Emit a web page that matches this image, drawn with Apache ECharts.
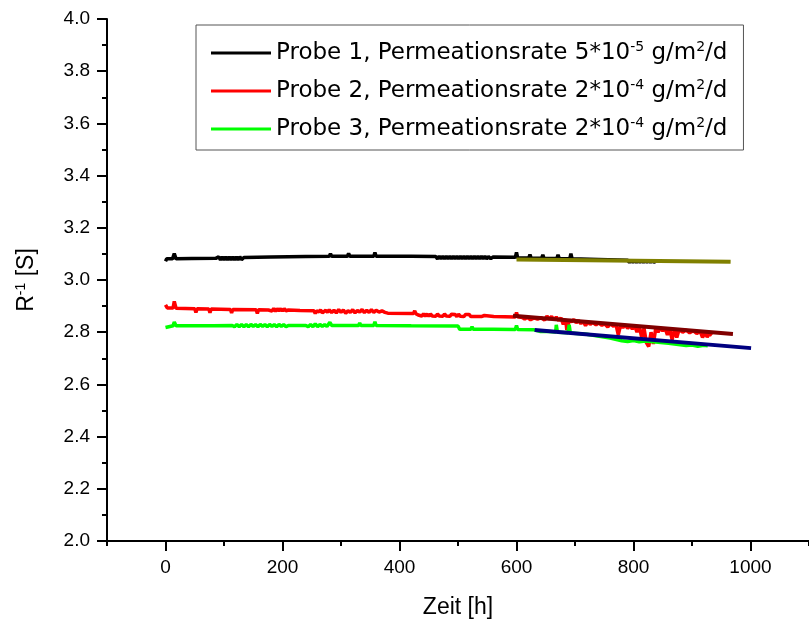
<!DOCTYPE html>
<html>
<head>
<meta charset="utf-8">
<script src="https://cdn.jsdelivr.net/npm/echarts@6/dist/echarts.min.js"></script>
<style>
html,body{margin:0;padding:0;background:#fff;}
#chart{width:809px;height:626px;}
</style>
</head>
<body>
<div id="chart"></div>
<script>
// ---- DATA ----
var legendNames = [
  'Probe 1, Permeationsrate 5*10^-5 g/m^2/d',
  'Probe 2, Permeationsrate 2*10^-4 g/m^2/d',
  'Probe 3, Permeationsrate 2*10^-4 g/m^2/d'
];
var legendRich = [
  '{r|Probe 1, Permeationsrate 5*10}{s|-5}{r| g/m}{s|2}{r|/d}',
  '{r|Probe 2, Permeationsrate 2*10}{s|-4}{r| g/m}{s|2}{r|/d}',
  '{r|Probe 3, Permeationsrate 2*10}{s|-4}{r| g/m}{s|2}{r|/d}'
];
var xTickValues = [0, 200, 400, 600, 800, 1000];

var probe1 = [
  [0,3.072],[2,3.081],[12,3.081],[15,3.101],[18,3.081],[45,3.082],[86,3.083],
  [88,3.077],[91,3.089],[94,3.077],[97,3.089],[100,3.077],[103,3.089],[106,3.077],[109,3.089],[112,3.077],[115,3.089],
  [118,3.077],[121,3.089],[124,3.077],[127,3.089],[130,3.078],[134,3.086],
  [180,3.088],[240,3.09],[280,3.091],[282,3.101],[284,3.091],[311,3.091],[313,3.102],[315,3.091],
  [356,3.091],[358,3.105],[360,3.091],[420,3.091],[462,3.09],
  [465,3.081],[468,3.091],[471,3.081],[474,3.091],[477,3.081],[480,3.091],[483,3.081],[486,3.091],[489,3.081],[492,3.091],
  [495,3.081],[498,3.091],[501,3.081],[504,3.091],[507,3.081],[510,3.091],[513,3.081],[516,3.091],[519,3.081],[522,3.091],
  [525,3.081],[528,3.091],[531,3.081],[534,3.091],[537,3.081],[540,3.091],[543,3.081],[546,3.091],[549,3.081],[552,3.09],
  [556,3.082],[560,3.088],
  [598,3.087],[600,3.106],[602,3.085],[621,3.084],[623,3.098],[625,3.084],[643,3.083],[645,3.097],[647,3.083],
  [669,3.082],[671,3.097],[673,3.082],[691,3.081],[693,3.101],[695,3.081],[740,3.079],[790,3.076],
  [793,3.068],[796,3.076],[799,3.068],[802,3.076],[805,3.068],[808,3.076],[811,3.068],[814,3.076],[817,3.068],[820,3.076],
  [823,3.068],[826,3.076],[829,3.068],[832,3.076],[835,3.068],[838,3.072]
];

var probe2 = [
  [0,2.905],[3,2.893],[13,2.893],[15,2.918],[18,2.892],[50,2.89],[52,2.876],[54,2.89],[74,2.889],[76,2.875],[78,2.889],
  [111,2.887],[113,2.874],[115,2.887],[155,2.886],[157,2.872],[159,2.886],
  [176,2.885],[179,2.891],[182,2.881],[185,2.891],[188,2.88],[191,2.89],[194,2.882],[197,2.89],[200,2.881],[203,2.89],
  [206,2.882],[210,2.885],[230,2.883],[254,2.882],[256,2.871],[258,2.882],
  [262,2.878],[265,2.886],[268,2.874],[271,2.869],[274,2.884],[277,2.876],[280,2.886],[284,2.875],[288,2.884],[292,2.874],
  [296,2.887],[300,2.876],[304,2.885],[308,2.873],[312,2.882],[316,2.876],[320,2.886],[324,2.874],[328,2.883],[332,2.877],
  [336,2.887],[340,2.875],[344,2.884],[348,2.876],[352,2.886],[356,2.876],[360,2.884],[365,2.877],[370,2.882],[375,2.876],
  [380,2.873],[424,2.872],[426,2.882],[428,2.871],
  [432,2.866],[435,2.871],[438,2.862],[441,2.87],[444,2.862],[447,2.87],[450,2.861],[453,2.87],[456,2.862],[459,2.869],
  [462,2.861],[465,2.87],[468,2.862],[471,2.869],[474,2.861],[477,2.87],[480,2.862],[483,2.869],[486,2.861],[489,2.869],
  [492,2.862],[495,2.868],[498,2.86],[501,2.869],[504,2.861],[507,2.868],[510,2.86],[513,2.868],[516,2.861],[519,2.868],
  [522,2.86],[525,2.867],[528,2.86],[531,2.867],[534,2.86],[537,2.866],[540,2.86],[545,2.864],
  [561,2.86],[598,2.858],[600,2.876],[602,2.859],
  [610,2.856],[614,2.85],[618,2.857],[624,2.848],[630,2.855],[636,2.85],[642,2.856],[648,2.846],[652,2.862],[656,2.85],
  [660,2.86],[664,2.847],[668,2.858],[672,2.845],[676,2.855],[680,2.83],[684,2.85],[686,2.808],[690,2.846],[694,2.84],
  [698,2.848],[702,2.836],[706,2.845],[710,2.833],[714,2.842],[718,2.825],[722,2.84],[726,2.83],[730,2.838],[736,2.828],
  [740,2.836],[746,2.826],[750,2.833],[756,2.82],[760,2.832],[766,2.823],[770,2.83],[774,2.79],[778,2.828],[782,2.818],
  [786,2.828],[790,2.815],[794,2.826],[798,2.812],[802,2.824],[806,2.8],[810,2.822],[814,2.78],[818,2.815],[822,2.76],
  [826,2.745],[830,2.8],[834,2.755],[838,2.815],[842,2.8],[846,2.817],[850,2.805],[854,2.815],[858,2.79],[862,2.812],
  [866,2.772],[870,2.81],[874,2.78],[878,2.81],[884,2.8],[890,2.808],[896,2.798],[902,2.806],[908,2.795],[914,2.803],
  [918,2.78],[922,2.8],[926,2.782],[930,2.795],[934,2.788]
];

var probe3 = [
  [0,2.818],[3,2.825],[13,2.825],[15,2.839],[18,2.825],[78,2.825],[80,2.832],[82,2.825],
  [114,2.826],[118,2.821],[122,2.83],[126,2.821],[130,2.83],[134,2.821],[138,2.829],[142,2.821],[146,2.83],[150,2.822],
  [154,2.829],[158,2.821],[162,2.83],[166,2.822],[170,2.829],[174,2.821],[178,2.83],[182,2.822],[186,2.829],[190,2.821],
  [194,2.83],[198,2.822],[202,2.829],[206,2.821],[210,2.826],[240,2.826],[244,2.821],[248,2.83],[252,2.821],[256,2.832],
  [260,2.821],[264,2.83],[268,2.822],[272,2.829],[276,2.822],[279,2.826],
  [281,2.838],[284,2.826],[330,2.826],[332,2.835],[334,2.826],[356,2.826],[358,2.84],[360,2.826],[420,2.825],[500,2.824],
  [503,2.811],[522,2.811],[524,2.821],[526,2.811],[560,2.811],[598,2.81],[600,2.826],[602,2.81],[630,2.809],[640,2.803],
  [655,2.803],[667,2.801],[668,2.828],[670,2.8],[688,2.798],[690,2.829],[692,2.797],[720,2.792],[760,2.778],[780,2.767],
  [790,2.764],[800,2.768],[810,2.763],[820,2.766],[860,2.758],[890,2.749],[900,2.751],[910,2.746],[920,2.75],[927,2.748]
];

var fit1 = [[600,3.079],[966,3.070]];
var fit2 = [[594,2.863],[970,2.793]];
var fit3 = [[631,2.808],[1001,2.739]];

// ---- CHART ----
var chart = echarts.init(document.getElementById('chart'), null, {renderer:'canvas'});
var F = 'Liberation Sans, Arial, sans-serif';
var LF = 'DejaVu Sans, sans-serif';

function dataSeries(name, data, color) {
  return { name: name, type: 'line', data: data, showSymbol: false, symbol: 'none',
    lineStyle: { color: color, width: 3.5 }, itemStyle: { color: color }, z: 2, animation: false };
}
function fitSeries(data, color) {
  return { type: 'line', data: data, showSymbol: false, symbol: 'none',
    lineStyle: { color: color, width: 4 }, z: 3, animation: false, legendHoverLink: false };
}

chart.setOption({
  backgroundColor: '#fff',
  animation: false,
  grid: { left: 107, right: -6, top: 19, bottom: 85 },
  legend: {
    data: legendNames,
    orient: 'vertical',
    left: 196, top: 25,
    padding: [15, 16, 8, 15],
    itemGap: 12,
    itemWidth: 60, itemHeight: 3,
    icon: 'rect',
    borderColor: '#555', borderWidth: 1, backgroundColor: '#fff',
    selectedMode: false,
    formatter: function (name) { return legendRich[legendNames.indexOf(name)]; },
    textStyle: {
      color: '#000', fontFamily: LF, fontSize: 23, lineHeight: 26,
      rich: {
        r: { fontFamily: LF, fontSize: 23, color: '#000', lineHeight: 26 },
        s: { fontFamily: LF, fontSize: 14, color: '#000', verticalAlign: 'top', lineHeight: 14 }
      }
    }
  },
  xAxis: [{
    type: 'value', min: -100, max: 1100, interval: 100,
    name: 'Zeit [h]', nameLocation: 'middle', nameGap: 55,
    nameTextStyle: { fontFamily: F, fontSize: 23, color: '#000' },
    axisLine: { show: true, onZero: false, lineStyle: { color: '#000', width: 2 } },
    axisTick: { show: true, customValues: xTickValues, length: 10, lineStyle: { color: '#000', width: 2 } },
    axisLabel: { customValues: xTickValues, fontFamily: F, fontSize: 19, color: '#000', margin: 17,
      formatter: function (v) { return String(v); } },
    splitLine: { show: false }
  }, {
    type: 'value', min: -100, max: 1100, interval: 100, position: 'bottom', gridIndex: 0,
    axisLine: { show: false },
    axisTick: { show: true, length: 5, lineStyle: { color: '#000', width: 2 } },
    axisLabel: { show: false },
    splitLine: { show: false }
  }],
  yAxis: {
    type: 'value', min: 2.0, max: 4.0, interval: 0.2,
    name: '{r|R}{s|-1}{r| [S]}', nameLocation: 'middle', nameGap: 67,
    nameTextStyle: {
      fontFamily: F, fontSize: 23, color: '#000',
      rich: {
        r: { fontFamily: F, fontSize: 23, color: '#000', lineHeight: 26 },
        s: { fontFamily: F, fontSize: 14, color: '#000', verticalAlign: 'top', lineHeight: 14 }
      }
    },
    axisLine: { show: true, onZero: false, lineStyle: { color: '#000', width: 2 } },
    axisTick: { show: true, length: 10, lineStyle: { color: '#000', width: 2 } },
    minorTick: { show: true, splitNumber: 2, length: 5, lineStyle: { color: '#000', width: 2 } },
    axisLabel: { fontFamily: F, fontSize: 19, color: '#000', margin: 17,
      formatter: function (v) { return v.toFixed(1); } },
    splitLine: { show: false }
  },
  series: [
    dataSeries(legendNames[0], probe1, '#000000'),
    dataSeries(legendNames[1], probe2, '#ff0000'),
    dataSeries(legendNames[2], probe3, '#00ff00'),
    fitSeries(fit1, '#808000'),
    fitSeries(fit2, '#800000'),
    fitSeries(fit3, '#000080')
  ]
});
</script>
</body>
</html>
